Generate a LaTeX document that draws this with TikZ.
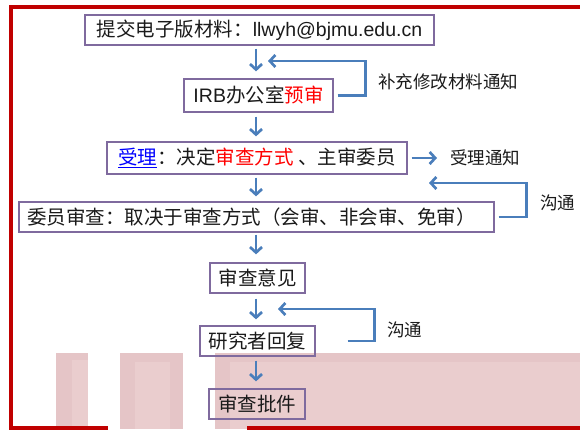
\documentclass[tikz,border=0pt]{standalone}
\usepackage{fontspec}
\setmainfont{Noto Sans CJK SC}
\newfontfamily\lat{Liberation Sans}
\usetikzlibrary{arrows.meta}
\definecolor{framec}{HTML}{C00000}
\definecolor{boxc}{HTML}{7F6A9E}
\definecolor{arrc}{HTML}{4A7EBB}
\definecolor{pinkA}{HTML}{E5C5C7}
\definecolor{pinkB}{HTML}{EACDCE}
\definecolor{redtxt}{HTML}{FF0000}
\definecolor{bluetxt}{HTML}{0000FF}
\definecolor{txt}{HTML}{1A1A1A}
\begin{document}
\begin{tikzpicture}[x=1pt,y=-1pt,
  box/.style={draw=boxc, line width=1.3pt, inner sep=0pt, minimum height=30pt, text=txt, font=\fontsize{19.5}{20}\selectfont},
  lbl/.style={inner sep=0pt, anchor=west, text=txt, font=\fontsize{17.5}{18}\selectfont},
  arr/.style={draw=arrc, line width=2.7pt, -{Straight Barb[length=5.5pt,width=12pt]}},
  pinkbar/.style={fill=pinkA},
  pinklight/.style={fill=pinkB},
  redframe/.style={draw=framec, line width=4.5pt, miter limit=10},
]
\useasboundingbox (0,0) rectangle (580,429);
% pink background bars
\fill[pinkbar] (56,353) rectangle (88,429);
\fill[pinklight] (72,360) rectangle (88,429);
\fill[pinkbar] (120,353) rectangle (183,429);
\fill[pinklight] (135,362) rectangle (170,429);
\fill[pinkbar] (215,353) rectangle (580,429);
\fill[pinklight] (230,362) rectangle (580,429);
% red frame
\draw[redframe] (580,7) -- (11,7) -- (11,428) -- (108,428);
\draw[redframe] (247,428) -- (580,428);
% boxes
\node[box, minimum width=349pt] (b1) at (259.5,30) {提交电子版材料：{\lat llwyh@bjmu.edu.cn}};
\node[box, minimum width=149pt, minimum height=33pt] (b2) at (258.5,95.5) {{\lat IRB}办公室\textcolor{redtxt}{预审}};
\node[box, minimum width=300pt, minimum height=32pt] (b3) at (257,158) {\textcolor{bluetxt}{\underline{受理}}：决定\textcolor{redtxt}{审查方式} 、主审委员};
\node[box, minimum width=475pt] (b4) at (256.5,217) {委员审查：取决于审查方式（会审、非会审、免审）\hspace*{10pt}};
\node[box, minimum width=95pt] (b5) at (257.5,278) {审查意见};
\node[box, minimum width=115pt] (b6) at (257.5,341) {研究者回复};
\node[box, minimum width=96pt] (b7) at (257,404) {审查批件};
% labels
\node[lbl] (l1) at (378,82) {补充修改材料通知};
\node[lbl] (l2) at (450,158) {受理通知};
\node[lbl] (l3) at (540,203) {沟通};
\node[lbl] (l4) at (387,330) {沟通};
% vertical arrows
\coordinate (ax) at (256,0);
\draw[arr, shorten <=3pt, shorten >=7pt] (b1.south -| ax) -- (b2.north -| ax);
\draw[arr, shorten <=4pt, shorten >=5pt] (b2.south -| ax) -- (b3.north -| ax);
\draw[arr, shorten <=3pt, shorten >=5pt] (b3.south -| ax) -- (b4.north -| ax);
\draw[arr, shorten <=2pt, shorten >=8pt] (b4.south -| ax) -- (b5.north -| ax);
\draw[arr, shorten <=5pt, shorten >=6pt] (b5.south -| ax) -- (b6.north -| ax);
\draw[arr, shorten <=4pt, shorten >=7pt] (b6.south -| ax) -- (b7.north -| ax);
% side arrow
\draw[arr, shorten <=4pt, shorten >=13pt] (b3.east) -- (l2.west);
% feedback loops
\coordinate (f1) at (268,61);
\coordinate (f2) at (429,183);
\coordinate (f3) at (278,309);
\draw[arr] ([xshift=4pt]b2.east) -- ++(28,0) |- (f1);
\draw[arr] ([xshift=4pt]b4.east) -- ++(28,0) |- (f2);
\draw[arr] ([xshift=32pt]b6.east) -- ++(27,0) |- (f3);
\end{tikzpicture}
\end{document}
